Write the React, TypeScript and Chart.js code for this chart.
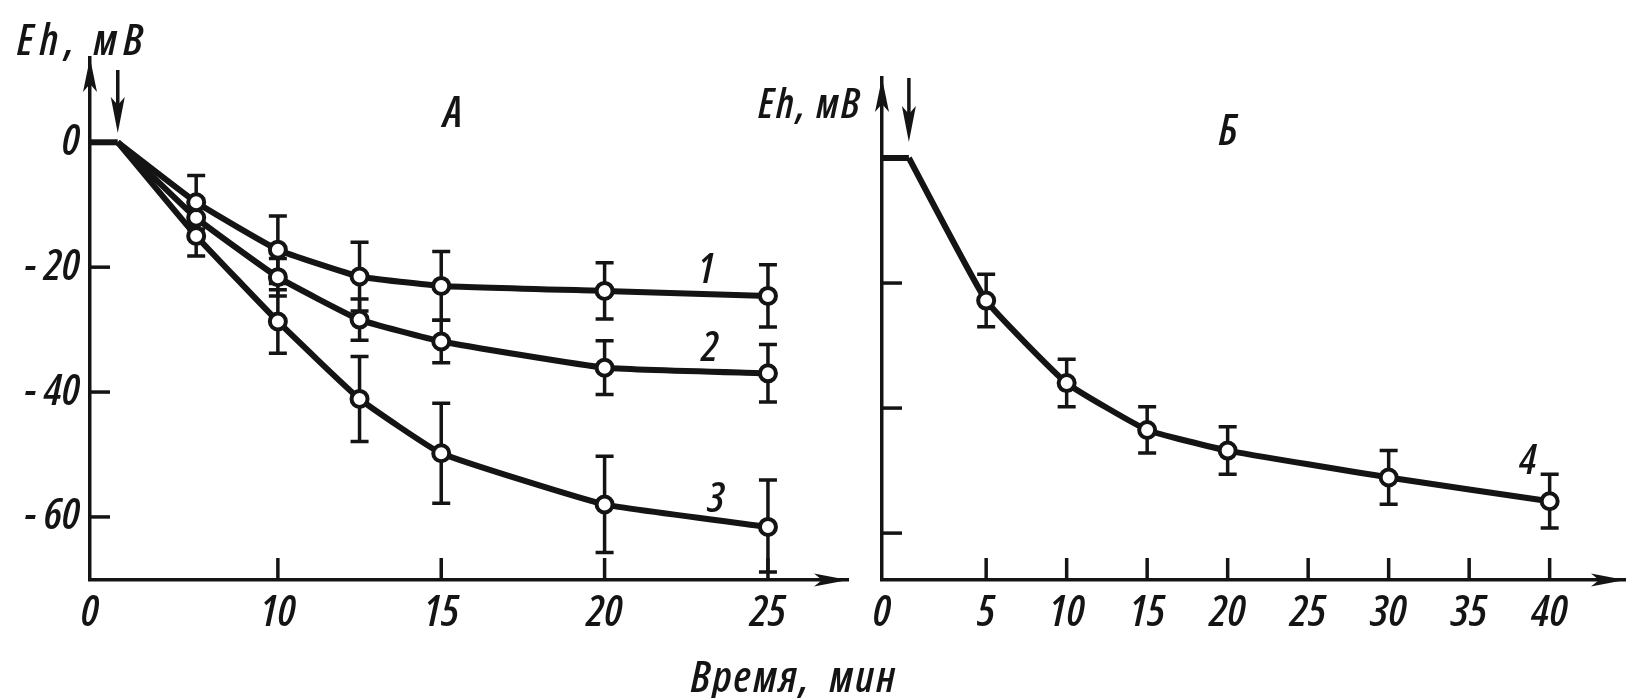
import React, { useEffect, useRef } from 'react';
import { Chart, registerables } from 'chart.js';

Chart.register(...registerables);

// ---------- Panel A (curves 1-3) ----------
const timeA = [7.5, 10, 12.5, 15, 20, 25];
const curve1 = [-9.6, -17.2, -21.5, -23.0, -23.8, -24.6];
const err1 = [4.3, 5.4, 5.5, 5.5, 4.5, 5.0];
const curve2 = [-12.1, -21.6, -28.4, -31.9, -36.1, -37.0];
const err2 = [3.0, 3.0, 3.3, 3.4, 4.3, 4.6];
const curve3 = [-15.0, -28.7, -41.1, -49.8, -58.0, -61.6];
const err3 = [3.2, 5.1, 6.8, 8.0, 7.7, 7.5];
const originA = 4.25; // axis origin, labelled "0"
const injectA = 5.1; // moment of addition (arrow)
const xMaxA = 27.45;
const yMinA = -70.1;
const yMaxA = 13.5;
const xTicksA = [10, 15, 20, 25];
const yTicksA = [0, -20, -40, -60];

// ---------- Panel B (curve 4) ----------
const timeB = [5, 10, 15, 20, 30, 40];
const curve4 = [-22.8, -36.0, -43.5, -46.8, -51.1, -54.9];
const err4 = [4.2, 3.8, 3.7, 3.8, 4.3, 4.3];
const originB = -1.47;
const injectB = 0.2;
const xMaxB = 44.68;
const yMinB = -67.5;
const yMaxB = 12.8;
const xTicksB = [5, 10, 15, 20, 25, 30, 35, 40];
const yTicksB = [-20, -40, -60];

const FONT = '"Open Sans", Roboto, "Liberation Sans", sans-serif';
const INK = '#141414';

const errorBarPlugin = {
  id: 'errorBars',
  beforeDatasetsDraw(chart: any) {
    const { ctx } = chart;
    const x = chart.scales.x;
    const y = chart.scales.y;
    ctx.save();
    ctx.strokeStyle = INK;
    ctx.lineWidth = 3.5;
    chart.data.datasets.forEach((ds: any) => {
      const errs: number[] | undefined = ds.errors;
      if (!errs) return;
      ds.data.forEach((p: any, j: number) => {
        const e = errs[j];
        if (!e) return;
        const px = x.getPixelForValue(p.x);
        const top = y.getPixelForValue(p.y + e);
        const bot = Math.min(y.getPixelForValue(p.y - e), chart.chartArea.bottom - 8);
        ctx.beginPath();
        ctx.moveTo(px, top);
        ctx.lineTo(px, bot);
        ctx.moveTo(px - 9, top);
        ctx.lineTo(px + 9, top);
        ctx.moveTo(px - 9, bot);
        ctx.lineTo(px + 9, bot);
        ctx.stroke();
      });
    });
    ctx.restore();
  },
};

function tri(ctx: any, tipX: number, tipY: number, dir: 'up' | 'down' | 'right', len: number, half: number) {
  ctx.beginPath();
  if (dir === 'up') {
    ctx.moveTo(tipX, tipY);
    ctx.lineTo(tipX - half, tipY + len);
    ctx.lineTo(tipX, tipY + len - 8);
    ctx.lineTo(tipX + half, tipY + len);
  } else if (dir === 'down') {
    ctx.moveTo(tipX, tipY);
    ctx.lineTo(tipX - half, tipY - len);
    ctx.lineTo(tipX, tipY - len + 8);
    ctx.lineTo(tipX + half, tipY - len);
  } else {
    ctx.moveTo(tipX, tipY);
    ctx.lineTo(tipX - len, tipY - half);
    ctx.lineTo(tipX - len + 8, tipY);
    ctx.lineTo(tipX - len, tipY + half);
  }
  ctx.closePath();
  ctx.fill();
}

const axisDecoPlugin = {
  id: 'axisDeco',
  afterDraw(chart: any, _args: any, opts: any) {
    const { ctx, chartArea } = chart;
    const x = chart.scales.x;
    const y = chart.scales.y;
    ctx.save();
    ctx.strokeStyle = INK;
    ctx.fillStyle = INK;
    ctx.lineWidth = 3.5;
    (opts.xMarks || []).forEach((v: number) => {
      const px = x.getPixelForValue(v);
      ctx.beginPath();
      ctx.moveTo(px, chartArea.bottom);
      ctx.lineTo(px, chartArea.bottom - 22);
      ctx.stroke();
    });
    (opts.yMarks || []).forEach((v: number) => {
      const py = y.getPixelForValue(v);
      ctx.beginPath();
      ctx.moveTo(chartArea.left, py);
      ctx.lineTo(chartArea.left + 20, py);
      ctx.stroke();
    });
    tri(ctx, chartArea.left, chartArea.top, 'up', 34, 7);
    tri(ctx, chartArea.right, chartArea.bottom, 'right', 34, 6.5);
    const ix = x.getPixelForValue(opts.inject);
    ctx.beginPath();
    ctx.moveTo(ix, opts.arrowTop);
    ctx.lineTo(ix, opts.arrowTip - 12);
    ctx.stroke();
    tri(ctx, ix, opts.arrowTip, 'down', 36, 7);
    ctx.restore();
  },
};

function makeOptions(p: {
  xMin: number; xMax: number; yMin: number; yMax: number;
  xTicks: number[]; yTicks: number[]; showY: boolean; yWidth: number;
  padTop: number; padRight: number; xOrigin: number;
  xMarks: number[]; yMarks: number[]; inject: number; arrowTop: number; arrowTip: number;
}) {
  const tickFont = { family: FONT, style: 'italic' as const, weight: '600 condensed' as any, size: 44 };
  return {
    responsive: false,
    animation: false as const,
    devicePixelRatio: 1,
    layout: { padding: { left: 0, top: p.padTop, right: p.padRight, bottom: 0 } },
    plugins: {
      legend: { display: false },
      tooltip: { enabled: false },
      axisDeco: { xMarks: p.xMarks, yMarks: p.yMarks, inject: p.inject, arrowTop: p.arrowTop, arrowTip: p.arrowTip },
    },
    scales: {
      x: {
        type: 'linear' as const,
        min: p.xMin,
        max: p.xMax,
        grid: { display: false, drawTicks: false },
        border: { display: true, width: 3.5, color: INK },
        afterBuildTicks: (s: any) => {
          s.ticks = [p.xOrigin, ...p.xTicks].map((v) => ({ value: v }));
        },
        afterFit: (s: any) => { s.height = 118; },
        ticks: {
          autoSkip: false,
          maxRotation: 0,
          padding: 7,
          color: INK,
          font: tickFont,
          callback: (v: any) => (v === p.xOrigin ? '0' : String(v)),
        },
      },
      y: {
        type: 'linear' as const,
        min: p.yMin,
        max: p.yMax,
        grid: { display: false, drawTicks: false },
        border: { display: true, width: 3.5, color: INK },
        afterBuildTicks: (s: any) => {
          s.ticks = p.yTicks.map((v) => ({ value: v }));
        },
        afterFit: (s: any) => { s.width = p.yWidth; },
        ticks: {
          display: p.showY,
          padding: 10,
          color: INK,
          font: tickFont,
          callback: (v: any) => (v === 0 ? '0' : '- ' + String(Math.abs(v))),
        },
      },
    },
  };
}

function curveDataset(times: number[], vals: number[], errs: number[], inject: number) {
  return {
    data: [{ x: inject, y: 0 }, ...times.map((t, i) => ({ x: t, y: vals[i] }))],
    errors: [0, ...errs],
    borderColor: INK,
    borderWidth: 6,
    tension: 0.12,
    pointRadius: (c: any) => (c.dataIndex === 0 ? 0 : 8),
    pointBorderWidth: 4,
    pointBackgroundColor: '#ffffff',
    pointBorderColor: INK,
    fill: false,
  } as any;
}

function flatDataset(origin: number, inject: number) {
  return {
    data: [{ x: origin, y: 0 }, { x: inject, y: 0 }],
    borderColor: INK,
    borderWidth: 6,
    pointRadius: 0,
    fill: false,
  } as any;
}

const txt = (left: number, top: number, size: number, spacing = 0): React.CSSProperties => ({
  position: 'absolute',
  left,
  top,
  transform: 'translate(-50%, -50%)',
  fontFamily: FONT,
  fontStyle: 'italic',
  fontStretch: 'condensed',
  fontWeight: 600,
  fontSize: size,
  letterSpacing: spacing,
  color: INK,
  whiteSpace: 'pre',
  lineHeight: 1,
});

export default function App() {
  const refA = useRef<HTMLCanvasElement>(null);
  const refB = useRef<HTMLCanvasElement>(null);

  useEffect(() => {
    const chartA = new Chart(refA.current as HTMLCanvasElement, {
      type: 'line',
      data: {
        datasets: [
          flatDataset(originA, injectA),
          curveDataset(timeA, curve1, err1, injectA),
          curveDataset(timeA, curve2, err2, injectA),
          curveDataset(timeA, curve3, err3, injectA),
        ],
      },
      options: makeOptions({
        xMin: originA, xMax: xMaxA, yMin: yMinA, yMax: yMaxA,
        xTicks: xTicksA, yTicks: yTicksA, showY: true, yWidth: 90,
        padTop: 58, padRight: 12, xOrigin: originA,
        xMarks: xTicksA, yMarks: yTicksA.filter((v) => v !== 0),
        inject: injectA, arrowTop: 70, arrowTip: 133,
      }) as any,
      plugins: [errorBarPlugin, axisDecoPlugin],
    });
    const chartB = new Chart(refB.current as HTMLCanvasElement, {
      type: 'line',
      data: {
        datasets: [
          flatDataset(originB, injectB),
          curveDataset(timeB, curve4, err4, injectB),
        ],
      },
      options: makeOptions({
        xMin: originB, xMax: xMaxB, yMin: yMinB, yMax: yMaxB,
        xTicks: xTicksB, yTicks: yTicksB, showY: false, yWidth: 22,
        padTop: 78, padRight: 1, xOrigin: originB,
        xMarks: xTicksB, yMarks: yTicksB,
        inject: injectB, arrowTop: 78, arrowTip: 142,
      }) as any,
      plugins: [errorBarPlugin, axisDecoPlugin],
    });
    return () => {
      chartA.destroy();
      chartB.destroy();
    };
  }, []);

  return (
    <div style={{ position: 'absolute', left: 0, top: 0, width: 1637, height: 698, background: '#fff', overflow: 'hidden' }}>
      <canvas ref={refA} width={860} height={698} style={{ position: 'absolute', left: 0, top: 0 }} />
      <canvas ref={refB} width={777} height={698} style={{ position: 'absolute', left: 860, top: 0 }} />
      <div style={txt(83, 38, 44, 6)}>Eh, мВ</div>
      <div style={txt(453, 110, 44)}>A</div>
      <div style={txt(810, 102, 42, 2)}>Eh, мВ</div>
      <div style={txt(1228, 128, 44)}>Б</div>
      <div style={txt(706, 267, 42)}>1</div>
      <div style={txt(710, 345, 42)}>2</div>
      <div style={txt(716, 496, 42)}>3</div>
      <div style={txt(1528, 458, 42)}>4</div>
      <div style={txt(794, 675, 44, 2)}>{'Время,  мин'}</div>
    </div>
  );
}
